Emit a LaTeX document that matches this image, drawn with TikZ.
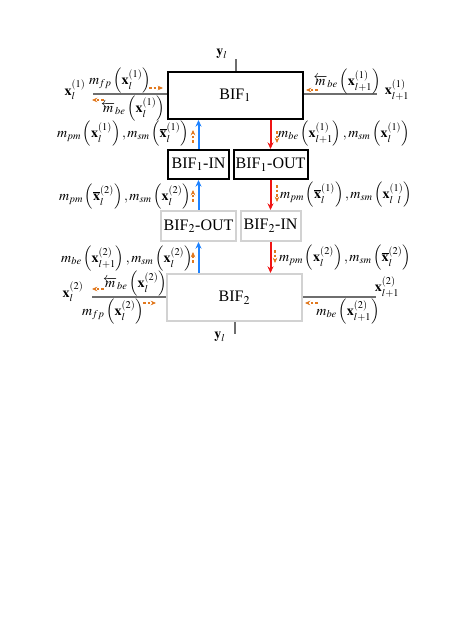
\documentclass[tikz,border=0pt]{standalone}
\usepackage{mathptmx}
\usepackage{fontspec}
\setmainfont{Liberation Serif}
\usetikzlibrary{arrows.meta}
\definecolor{boxgray}{RGB}{210,210,210}
\definecolor{linegray}{RGB}{110,110,110}
\definecolor{arrblue}{RGB}{30,130,255}
\definecolor{arrred}{RGB}{240,20,20}
\definecolor{msgorange}{RGB}{225,120,30}
\begin{document}
\begin{tikzpicture}[x=0.75pt,y=-0.75pt, font=\fontsize{12}{14}\selectfont,
  blk/.style={draw=black, line width=1.5pt, inner sep=0pt},
  gbox/.style={draw=boxgray, line width=1.5pt, inner sep=0pt},
  conn/.style={draw=linegray, line width=0.8pt},
  upar/.style={draw=arrblue, line width=1.5pt, -{Stealth[length=5pt,width=4.5pt]}},
  dnar/.style={draw=arrred, line width=1.5pt, -{Stealth[length=5pt,width=4.5pt]}},
  msg/.style={draw=msgorange, dash pattern=on 2pt off 1.5pt, line width=0.8pt, -{Stealth[length=4pt,width=3.5pt]}},
  lbl/.style={inner sep=0pt, font=\fontsize{10.5}{12}\selectfont}]
\useasboundingbox (0,0) rectangle (473,630);
% boxes
\node[blk, minimum width=101.6pt, minimum height=35.25pt] (BIF1) at (235.25,95.5) {BIF$_1$};
\node[blk, minimum width=45.75pt, minimum height=21.75pt] (BIF1in) at (198.5,164.5) {BIF$_1$-IN};
\node[blk, minimum width=55.5pt, minimum height=21.75pt] (BIF1out) at (270.5,164.5) {BIF$_1$-OUT};
\node[gbox, minimum width=56.25pt, minimum height=22.5pt] (BIF2out) at (198.5,226) {BIF$_2$-OUT};
\node[gbox, minimum width=45pt, minimum height=22.5pt] (BIF2in) at (270.5,226) {BIF$_2$-IN};
\node[gbox, minimum width=101.25pt, minimum height=35.25pt] (BIF2) at (234.5,297.5) {BIF$_2$};
% vertical arrows
\draw[upar] (BIF1in.north) -- (BIF1in.north |- BIF1.south);
\draw[upar] (BIF2out.north) -- (BIF1in.south);
\draw[upar] (BIF2out.south |- BIF2.north) -- (BIF2out.south);
\draw[dnar] (BIF1out.north |- BIF1.south) -- (BIF1out.north);
\draw[dnar] (BIF1out.south) -- (BIF2in.north);
\draw[dnar] (BIF2in.south) -- (BIF2in.south |- BIF2.north);
% gray lines
\coordinate (L1) at (93,94);
\coordinate (R1) at (377,94);
\coordinate (T1) at (236,59);
\coordinate (L2) at (92,297);
\coordinate (R2) at (376,297);
\coordinate (B2) at (235,334);
\draw[conn] (L1) -- (BIF1.west |- L1);
\draw[conn] (BIF1.east |- R1) -- (R1);
\draw[conn] (T1 |- BIF1.north) -- (T1);
\draw[conn] (L2) -- (BIF2.west |- L2);
\draw[conn] (BIF2.east |- R2) -- (R2);
\draw[conn] (B2 |- BIF2.south) -- (B2);
% labels top
\node[lbl] (ytop) at (222,54) {$\mathbf{y}_l$};
\node[lbl] (x1l) at (75,90) {$\mathbf{x}_l^{(1)}$};
\node[lbl] (mfp1) at (120,81) {$m_{fp}\left(\mathbf{x}_l^{(1)}\right)$};
\node[lbl] (mbe1) at (133,109) {$\overleftarrow{m}_{be}\left(\mathbf{x}_l^{(1)}\right)$};
\node[lbl] (mbeR1) at (347,82) {$\overleftarrow{m}_{be}\left(\mathbf{x}_{l+1}^{(1)}\right)$};
\node[lbl] (x1r) at (397,90) {$\mathbf{x}_{l+1}^{(1)}$};
% middle labels
\node[lbl] (lab1L) at (123,134) {$m_{pm}\left(\mathbf{x}_l^{(1)}\right), m_{sm}\left(\overline{\mathbf{x}}_l^{(1)}\right)$};
\node[lbl] (lab1R) at (344,134) {$m_{be}\left(\mathbf{x}_{l+1}^{(1)}\right), m_{sm}\left(\mathbf{x}_l^{(1)}\right)$};
\node[lbl] (lab2L) at (125,197) {$m_{pm}\left(\overline{\mathbf{x}}_l^{(2)}\right), m_{sm}\left(\mathbf{x}_l^{(2)}\right)$};
\node[lbl] (lab2R) at (346,195) {$m_{pm}\left(\overline{\mathbf{x}}_l^{(1)}\right), m_{sm}\left(\mathbf{x}_{l\;\;l}^{(1)}\right)$};
\node[lbl] (lab3L) at (127,259) {$m_{be}\left(\mathbf{x}_{l+1}^{(2)}\right), m_{sm}\left(\mathbf{x}_l^{(2)}\right)$};
\node[lbl] (lab3R) at (345,258) {$m_{pm}\left(\mathbf{x}_l^{(2)}\right), m_{sm}\left(\overline{\mathbf{x}}_l^{(2)}\right)$};
% bottom labels
\node[lbl] (x2l) at (73,292) {$\mathbf{x}_l^{(2)}$};
\node[lbl] (mbe2) at (135,284) {$\overleftarrow{m}_{be}\left(\mathbf{x}_l^{(2)}\right)$};
\node[lbl] (mfp2) at (113,312) {$m_{fp}\left(\mathbf{x}_l^{(2)}\right)$};
\node[lbl] (x2r) at (387,287) {$\mathbf{x}_{l+1}^{(2)}$};
\node[lbl] (mbeR2) at (348,312) {$m_{be}\left(\mathbf{x}_{l+1}^{(2)}\right)$};
\node[lbl] (ybot) at (220,337) {$\mathbf{y}_l$};
% orange message arrows
\coordinate (o1a) at (149,88);  \coordinate (o1b) at (163,88);
\coordinate (o2a) at (104,100); \coordinate (o2b) at (92,100);
\coordinate (o3a) at (318,90);  \coordinate (o3b) at (306,90);
\coordinate (o4a) at (193,143); \coordinate (o4b) at (193,130);
\coordinate (o5a) at (277,131); \coordinate (o5b) at (277,143);
\coordinate (o6a) at (193,202); \coordinate (o6b) at (193,190);
\coordinate (o7a) at (277,185); \coordinate (o7b) at (277,202);
\coordinate (o8a) at (193,263); \coordinate (o8b) at (193,252);
\coordinate (o9a) at (275,250); \coordinate (o9b) at (275,263);
\coordinate (o10a) at (104,289); \coordinate (o10b) at (92,289);
\coordinate (o11a) at (143,303); \coordinate (o11b) at (156,303);
\coordinate (o12a) at (318,303); \coordinate (o12b) at (305,303);
\foreach \i in {1,...,12} {\draw[msg] (o\i a) -- (o\i b);}
\end{tikzpicture}
\end{document}
